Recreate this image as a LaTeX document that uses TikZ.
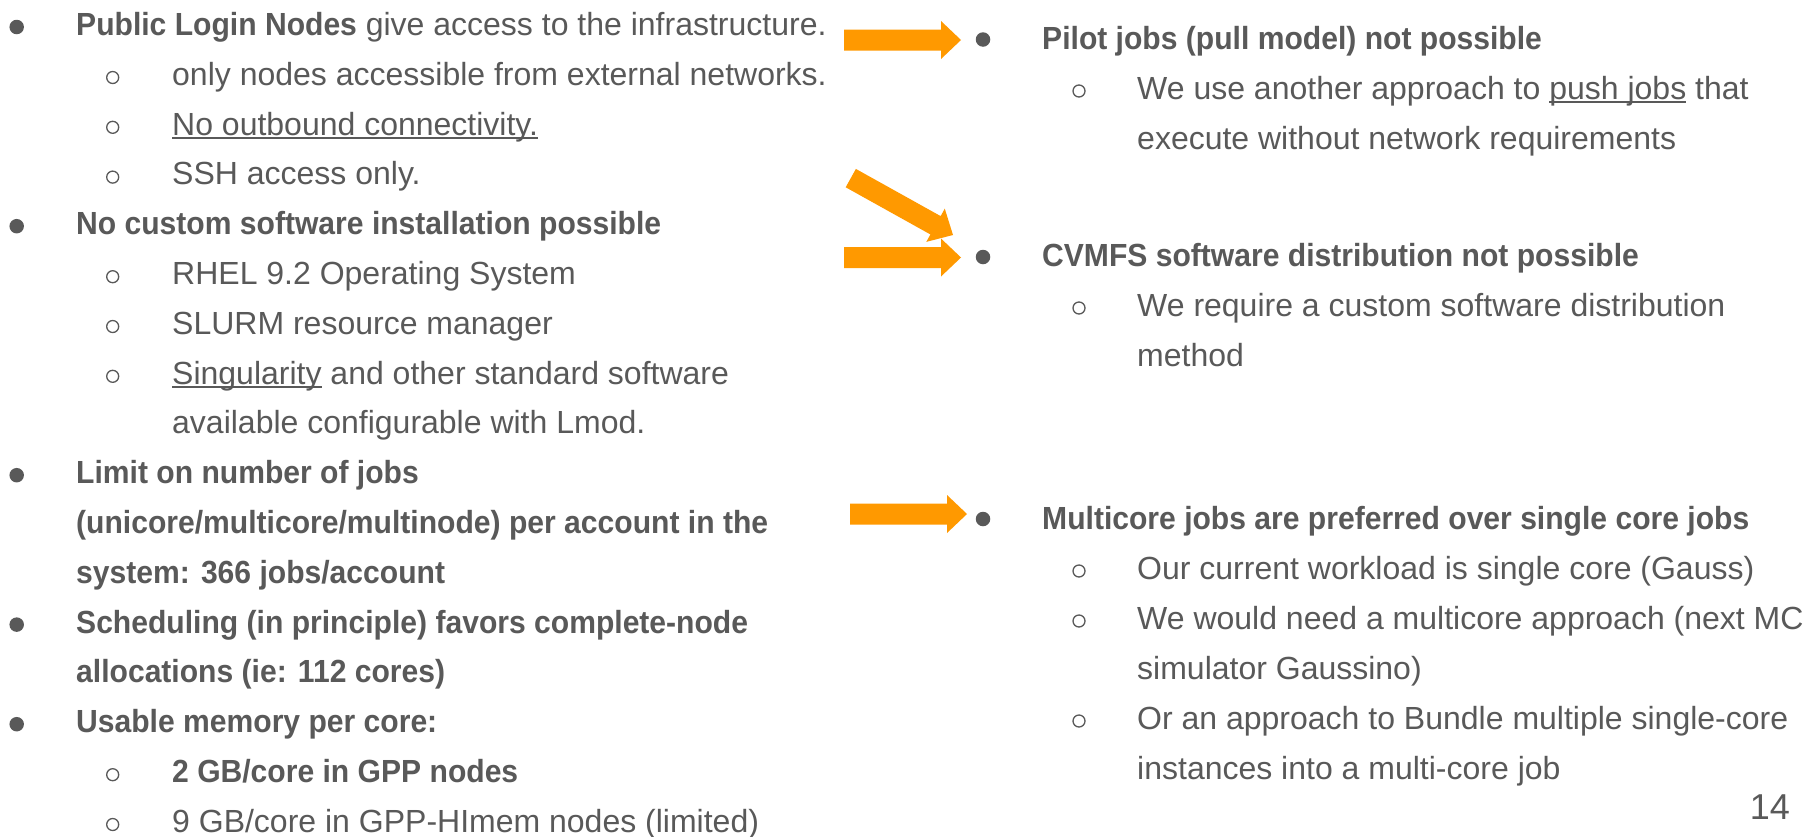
\documentclass[tikz,border=0pt]{standalone}
\usepackage{fontspec}
\setmainfont{Liberation Sans}[BoldFeatures={FakeStretch=0.94}]
\definecolor{txt}{HTML}{595959}
\definecolor{arr}{HTML}{FF9900}
\newsavebox\ulbox
\newcommand\ulin[1]{\sbox\ulbox{#1}\rlap{\rule[-3.6pt]{\wd\ulbox}{1.8pt}}\usebox\ulbox}
\tikzset{
  line/.style={anchor=base west, inner sep=0pt, text=txt,
    font=\fontsize{32}{38}\selectfont},
  dotbul/.style={circle, fill=txt, inner sep=0pt, minimum size=14.5pt},
  ringbul/.style={circle, draw=txt, line width=1.3pt, inner sep=0pt, minimum size=12pt},
  pics/fatarrow/.style={code={
    \fill[arr] (-117,-10.5) -- (-20,-10.5) -- (-20,-19) -- (0,0)
      -- (-20,19) -- (-20,10.5) -- (-117,10.5) -- cycle;}}
}
\begin{document}
\begin{tikzpicture}[x=1pt, y=-1pt]
\fill[white] (0,0) rectangle (1804,836);
\useasboundingbox (0,0) rectangle (1804,836);

% ---- left column ----
\begin{scope}[yshift=-2.5pt]
\node[line] (l0)  at (76,33)    {\textbf{Public Login Nodes} give access to the infrastructure.};
\node[line] (l1)  at (172,82.8) {only nodes accessible from external networks.};
\node[line] (l2)  at (172,132.6){\ulin{No outbound connectivity.}};
\node[line] (l3)  at (172,182.4){SSH access only.};
\node[line] (l4)  at (76,232.2) {\textbf{No custom software installation possible}};
\node[line] (l5)  at (172,282)  {RHEL 9.2 Operating System};
\node[line] (l6)  at (172,331.8){SLURM resource manager};
\node[line] (l7)  at (172,381.6){\ulin{Singularity} and other standard software};
\node[line] (l8)  at (172,431.4){available configurable with Lmod.};
\node[line] (l9)  at (76,481.2) {\textbf{Limit on number of jobs}};
\node[line] (l10) at (76,531)   {\textbf{(unicore/multicore/multinode) per account in the}};
\node[line] (l11) at (76,580.8) {\textbf{system: 366 jobs/account}};
\node[line] (l12) at (76,630.6) {\textbf{Scheduling (in principle) favors complete-node}};
\node[line] (l13) at (76,680.4) {\textbf{allocations (ie: 112 cores)}};
\node[line] (l14) at (76,730.2) {\textbf{Usable memory per core:}};
\node[line] (l15) at (172,780)  {\textbf{2 GB/core in GPP nodes}};
\node[line] (l16) at (172,829.8){9 GB/core in GPP-HImem nodes (limited)};

\node[dotbul]  (bl0)  at (16.7,24.5)  {};
\node[ringbul] (bl1)  at (112.7,75)   {};
\node[ringbul] (bl2)  at (112.7,124.8) {};
\node[ringbul] (bl3)  at (112.7,174.6) {};
\node[dotbul]  (bl4)  at (16.7,223.7) {};
\node[ringbul] (bl5)  at (112.7,274.2) {};
\node[ringbul] (bl6)  at (112.7,324)  {};
\node[ringbul] (bl7)  at (112.7,373.8) {};
\node[dotbul]  (bl9)  at (16.7,472.7) {};
\node[dotbul]  (bl12) at (16.7,622.1) {};
\node[dotbul]  (bl14) at (16.7,721.7) {};
\node[ringbul] (bl15) at (112.7,772.2) {};
\node[ringbul] (bl16) at (112.7,822)  {};
\end{scope}

% ---- right column ----
\node[line] (r0)  at (1042,49)  {\textbf{Pilot jobs (pull model) not possible}};
\node[line] (r1)  at (1137,99)  {We use another approach to \ulin{push jobs} that};
\node[line] (r2)  at (1137,149) {execute without network requirements};
\node[line] (r3)  at (1042,266) {\textbf{CVMFS software distribution not possible}};
\node[line] (r4)  at (1137,316) {We require a custom software distribution};
\node[line] (r5)  at (1137,366) {method};
\node[line] (r6)  at (1042,529) {\textbf{Multicore jobs are preferred over single core jobs}};
\node[line] (r7)  at (1137,579) {Our current workload is single core (Gauss)};
\node[line] (r8)  at (1137,629) {We would need a multicore approach (next MC};
\node[line] (r9)  at (1137,679) {simulator Gaussino)};
\node[line] (r10) at (1137,729) {Or an approach to Bundle multiple single-core};
\node[line] (r11) at (1137,779) {instances into a multi-core job};

\node[dotbul]  (br0)  at (983,39.5) {};
\node[ringbul] (br1)  at (1079,91)  {};
\node[dotbul]  (br3)  at (983,257)  {};
\node[ringbul] (br4)  at (1079,308) {};
\node[dotbul]  (br6)  at (983,519)  {};
\node[ringbul] (br7)  at (1079,571) {};
\node[ringbul] (br8)  at (1079,621) {};
\node[ringbul] (br10) at (1079,721) {};

% ---- page number ----
\node[anchor=base east, inner sep=0pt, text=txt, font=\fontsize{36}{40}\selectfont]
  (pagenum) at (1790,819) {14};

% ---- orange arrows ----
\coordinate (tipA) at (961,40);
\coordinate (tipB) at (953,235);
\coordinate (tipC) at (961,257.5);
\coordinate (tipD) at (967,514);
\pic at (tipA) {fatarrow};
\pic[rotate=-29.1] at (tipB) {fatarrow};
\pic at (tipC) {fatarrow};
\pic at (tipD) {fatarrow};
\end{tikzpicture}
\end{document}
